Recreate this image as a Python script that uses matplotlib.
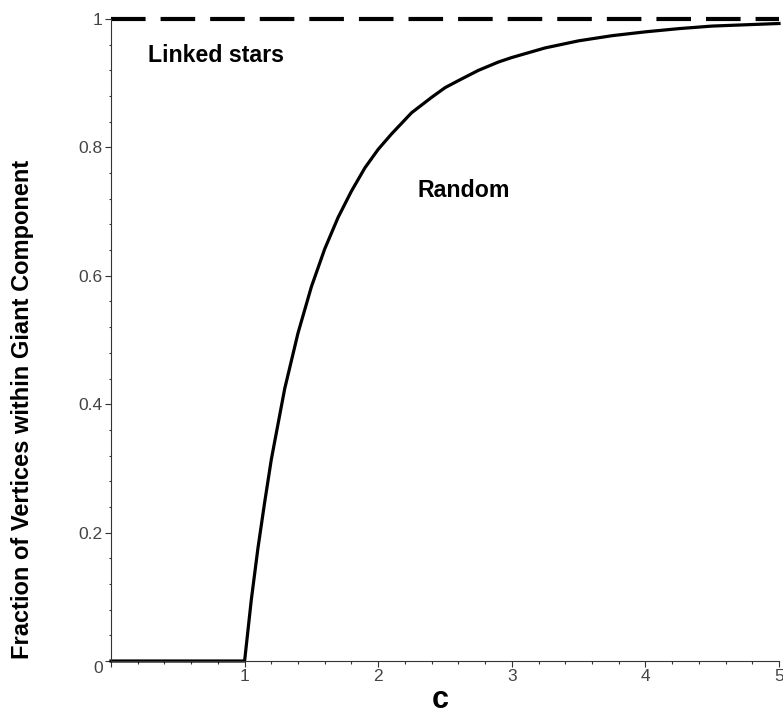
import matplotlib
matplotlib.use("Agg")
import matplotlib.pyplot as plt
from matplotlib.ticker import MultipleLocator, FixedLocator

# Data
c_values = [0.0, 1.0, 1.05, 1.1, 1.15, 1.2, 1.3, 1.4, 1.5, 1.6, 1.7, 1.8, 1.9,
            2.0, 2.1, 2.25, 2.4, 2.5, 2.6, 2.75, 2.9, 3.0, 3.25, 3.5, 3.75,
            4.0, 4.25, 4.5, 4.75, 5.0]
giant_fraction = [0.0, 0.0, 0.095, 0.176, 0.247, 0.314, 0.424, 0.511, 0.583,
                  0.642, 0.691, 0.732, 0.768, 0.797, 0.821, 0.854, 0.878,
                  0.893, 0.904, 0.920, 0.933, 0.940, 0.955, 0.966, 0.974,
                  0.980, 0.985, 0.989, 0.991, 0.993]
linked_x = [0.0, 5.0]
linked_y = [1.0, 1.0]

x_ticks = [1, 2, 3, 4, 5]
x_ticklabels = ["1", "2", "3", "4", "5"]
y_ticks = [0, 0.2, 0.4, 0.6, 0.8, 1.0]
y_ticklabels = ["0", "0.2", "0.4", "0.6", "0.8", "1"]

label_linked = "Linked stars"
label_random = "Random"
xlabel = "c"
ylabel = "Fraction of Vertices within Giant Component"

plt.rcParams['font.family'] = ['Liberation Sans', 'DejaVu Sans']

W, H = 783, 717
fig = plt.figure(figsize=(W / 100, H / 100), dpi=100)
ax = fig.add_axes([111 / W, (H - 661) / H, 668 / W, 642 / H])

ax.plot(c_values, giant_fraction, color='black', lw=2.3, clip_on=False,
        solid_joinstyle='round')
ax.plot(linked_x, linked_y, color='black', lw=3.0, dashes=(8.3, 3.6),
        clip_on=False, dash_capstyle='butt')

ax.set_xlim(0, 5)
ax.set_ylim(0, 1)

for side in ('top', 'right'):
    ax.spines[side].set_visible(False)
for side in ('left', 'bottom'):
    ax.spines[side].set_color('#333333')
    ax.spines[side].set_linewidth(0.8)

ax.xaxis.set_major_locator(FixedLocator([0] + x_ticks))
ax.set_xticklabels([""] + x_ticklabels)
ax.xaxis.set_minor_locator(MultipleLocator(0.2))
ax.yaxis.set_major_locator(FixedLocator(y_ticks))
ax.set_yticklabels(y_ticklabels)
ax.yaxis.set_minor_locator(MultipleLocator(0.04))

ax.tick_params(axis='both', which='major', direction='out', length=4,
               width=0.8, color='#333333', labelsize=12.5, labelcolor='#444444')
ax.tick_params(axis='x', which='major', pad=1.5)
ax.tick_params(axis='y', which='major', pad=2)
ax.tick_params(axis='both', which='minor', direction='out', length=1.8,
               width=0.8, color='#333333')

ylabs = ax.get_yticklabels()
ylabs[0].set_verticalalignment('top')

ax.text(0.277, 0.933, label_linked, fontsize=16.7, fontweight='bold',
        ha='left', va='baseline', color='black')
ax.text(2.294, 0.7227, label_random, fontsize=16.7, fontweight='bold',
        ha='left', va='baseline', color='black')

fig.text(440 / W, 1 - 708 / H, xlabel, fontsize=22, fontweight='bold',
         ha='center', va='baseline')
fig.text(23 / W, 1 - 409 / H, ylabel, rotation=90, fontsize=17,
         fontweight='bold', ha='center', va='center')

fig.savefig("out.png", dpi=100)
